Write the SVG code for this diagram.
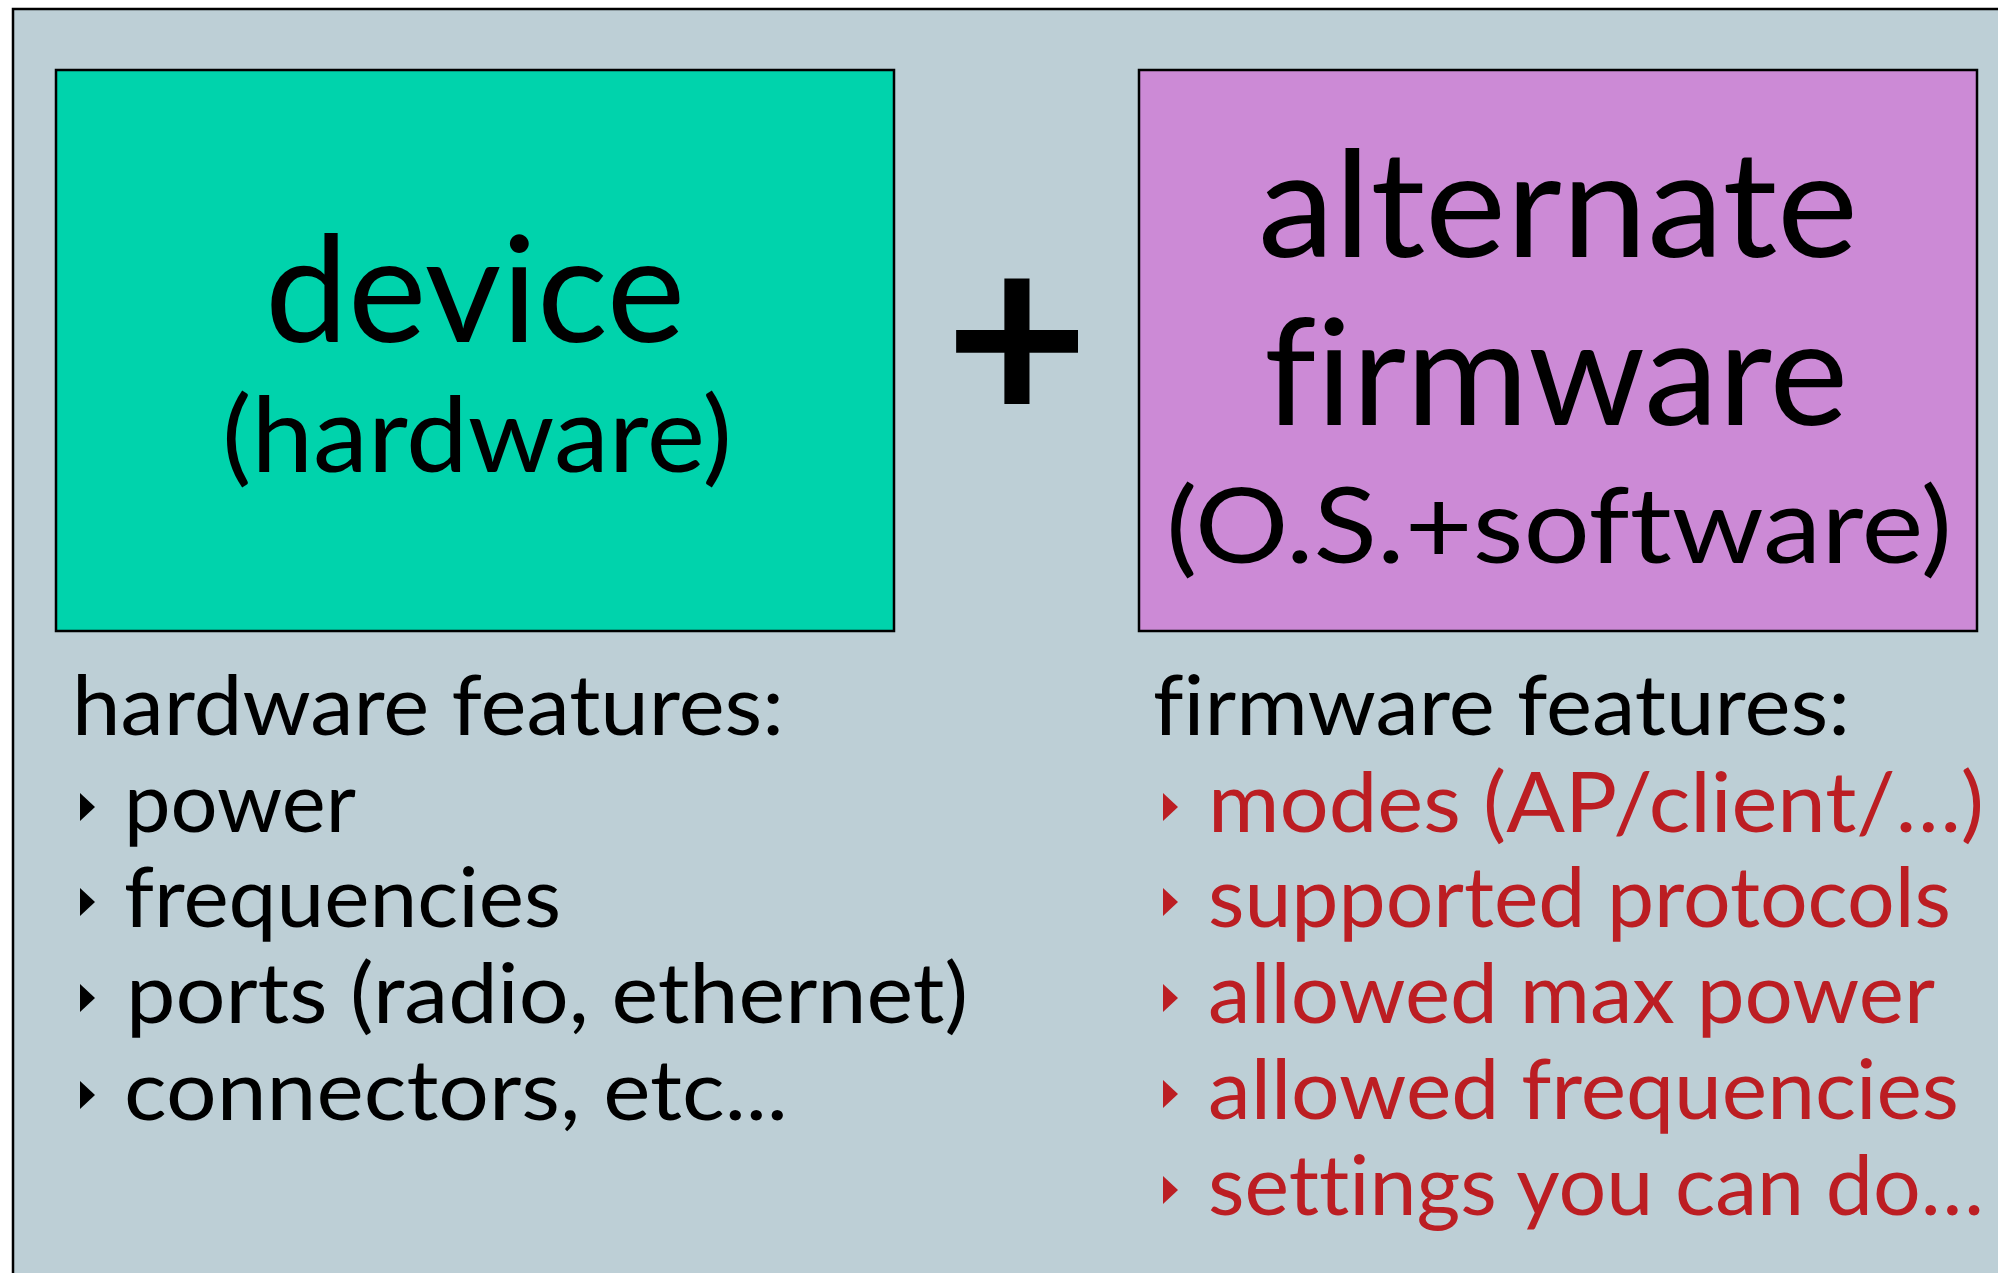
<svg xmlns="http://www.w3.org/2000/svg" width="1998" height="1273" viewBox="0 0 1998 1273">
  <style>
    text { font-family: Lato, "Open Sans", "Noto Sans", sans-serif; fill: #000; font-variant-ligatures: none; font-feature-settings: "liga" 0, "clig" 0, "dlig" 0; }
    .title { font-size: 148px; text-anchor: middle; }
    .sub { font-size: 105px; text-anchor: middle; }
    .head { font-size: 84px; }
    .item { font-size: 84px; }
    .red { fill: #BC1E23; }
    .box { stroke: #000; stroke-width: 2.5; }
  </style>
  <defs>
    <polygon id="bullet" points="0,-14 15,0 0,14"/>
  </defs>

  <!-- page panel -->
  <rect x="13" y="9" width="2000" height="1280" fill="#BDCFD6" stroke="#000" stroke-width="2.5"/>

  <!-- hardware node -->
  <g id="node-device">
    <rect class="box" x="56" y="70" width="838" height="561" fill="#00D3AC"/>
    <text class="title" x="475" y="342" textLength="420" lengthAdjust="spacingAndGlyphs">device</text>
    <text class="sub" x="477" y="472" textLength="510" lengthAdjust="spacingAndGlyphs">(hardware)</text>
  </g>

  <!-- plus sign between nodes -->
  <g id="connectors">
    <text x="1017" y="425" font-family="DejaVu Sans" font-weight="bold" font-size="250" text-anchor="middle">+</text>
  </g>

  <!-- firmware node -->
  <g id="node-firmware">
    <rect class="box" x="1139" y="70" width="838" height="561" fill="#CC8AD6"/>
    <text class="title" x="1558" y="257" textLength="600" lengthAdjust="spacingAndGlyphs">alternate</text>
    <text class="title" x="1556" y="425" textLength="584" lengthAdjust="spacingAndGlyphs">firmware</text>
    <text class="sub" x="1559" y="563" textLength="786" lengthAdjust="spacingAndGlyphs">(O.S.+software)</text>
  </g>

  <!-- hardware feature list -->
  <g id="hardware-features">
    <text class="head" x="72" y="735" textLength="712" lengthAdjust="spacingAndGlyphs">hardware features:</text>
    <use href="#bullet" x="80" y="807"/>
    <text class="item" x="124" y="832" textLength="232" lengthAdjust="spacingAndGlyphs">power</text>
    <use href="#bullet" x="80" y="902"/>
    <text class="item" x="124" y="927" textLength="437" lengthAdjust="spacingAndGlyphs">frequencies</text>
    <use href="#bullet" x="80" y="998"/>
    <text class="item" x="126" y="1023" textLength="842" lengthAdjust="spacingAndGlyphs">ports (radio, ethernet)</text>
    <use href="#bullet" x="80" y="1095"/>
    <text class="item" x="124" y="1120" textLength="664" lengthAdjust="spacingAndGlyphs">connectors, etc...</text>
  </g>

  <!-- firmware feature list -->
  <g id="firmware-features">
    <text class="head" x="1153" y="735" textLength="697" lengthAdjust="spacingAndGlyphs">firmware features:</text>
    <use class="red" href="#bullet" x="1163" y="807"/>
    <text class="item red" x="1208" y="832" textLength="776" lengthAdjust="spacingAndGlyphs">modes (AP/client/…)</text>
    <use class="red" href="#bullet" x="1163" y="902"/>
    <text class="item red" x="1208" y="927" textLength="743" lengthAdjust="spacingAndGlyphs">supported protocols</text>
    <use class="red" href="#bullet" x="1163" y="998"/>
    <text class="item red" x="1208" y="1023" textLength="727" lengthAdjust="spacingAndGlyphs">allowed max power</text>
    <use class="red" href="#bullet" x="1163" y="1094"/>
    <text class="item red" x="1208" y="1119" textLength="751" lengthAdjust="spacingAndGlyphs">allowed frequencies</text>
    <use class="red" href="#bullet" x="1163" y="1190"/>
    <text class="item red" x="1208" y="1215" textLength="776" lengthAdjust="spacingAndGlyphs">settings you can do…</text>
  </g>
</svg>
